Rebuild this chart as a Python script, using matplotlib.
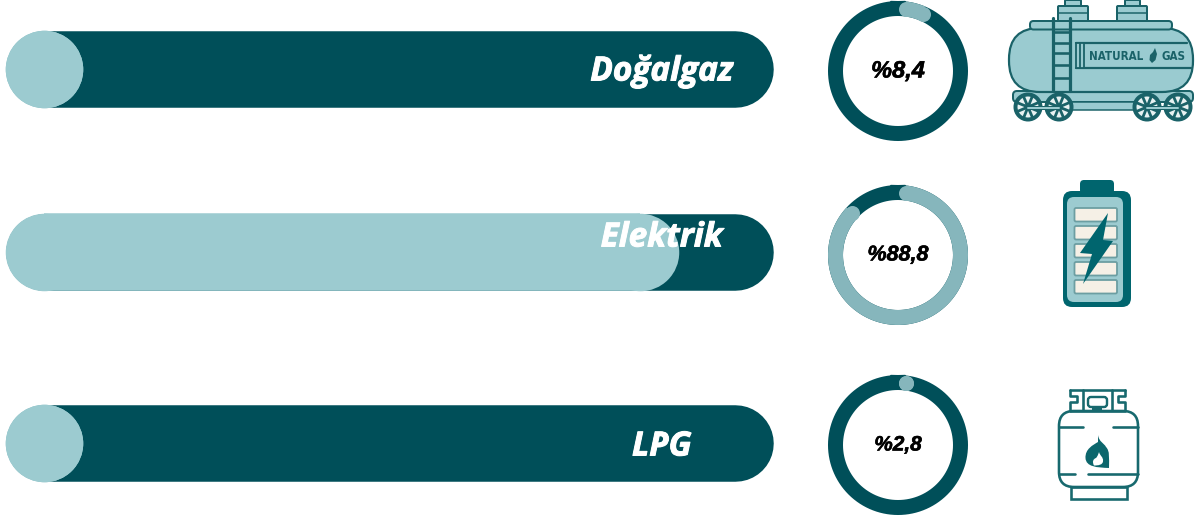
import numpy as np
import matplotlib
matplotlib.use("Agg")
import matplotlib.pyplot as plt
import matplotlib.patheffects as pe
from matplotlib.patches import FancyBboxPatch, Rectangle, Circle, Polygon, PathPatch
from matplotlib.path import Path

categories = ["Doğalgaz", "Elektrik", "LPG"]
share_values = [8.4, 88.8, 2.8]
share_labels = ["%8,4", "%88,8", "%2,8"]
bar_fill_values = [10.0, 87.7, 10.0]

W, H = 1203, 518
DARK = "#004F59"
LIGHT = "#9CCBD0"
RING_LIGHT = "#86B6BC"
TEAL = "#0F666C"
px = 0.72

fig = plt.figure(figsize=(W / 100, H / 100), dpi=100, facecolor="white")

# ---------- bars ----------
bx0, bx1 = 6, 773
axb = fig.add_axes([bx0 / W, 0, (bx1 - bx0) / W, 1])
axb.set_xlim(0, 100)
axb.set_ylim(H, 0)
axb.axis("off")
bar_h = 76.5
cap = bar_h / 2 / (bx1 - bx0) * 100
row_y = [69, 251.5, 443]
label_y = [72, 238, 447]
label_x = [85.5, 85.5, 85.5]
for v, y, ly, lx, name in zip(bar_fill_values, row_y, label_y, label_x, categories):
    axb.plot([cap, 100 - cap], [y, y], color=DARK, lw=bar_h * px,
             solid_capstyle="round", clip_on=False)
    fx = [cap, max(cap, v - cap)]
    axb.plot(fx, [y, y], color=LIGHT, lw=(bar_h + 1) * px,
             solid_capstyle="butt", clip_on=False)
    axb.plot(fx, [y, y], color=LIGHT, ls="none", marker="o", mew=0,
             ms=(bar_h + 1) * px, clip_on=False)
    axb.text(lx, ly, name, color="white", fontsize=24, fontweight="bold",
             fontstyle="italic", family="Open Sans", ha="center", va="center",
             path_effects=[pe.withStroke(linewidth=0.7, foreground="white")])

# ---------- rings ----------
ring_c = [(898, 71), (898, 255), (898, 445)]
ring_half = 72
ring_w = 15
ring_r = 62.5
offset = 7.0
label_sizes = [17, 15.5, 15]
for v, (cx, cy), lab, fs in zip(share_values, ring_c, share_labels, label_sizes):
    ax = fig.add_axes([(cx - ring_half) / W, 1 - (cy + ring_half) / H,
                       2 * ring_half / W, 2 * ring_half / H], projection="polar")
    ax.set_theta_zero_location("N")
    ax.set_theta_direction(-1)
    ax.set_ylim(0, ring_half)
    ax.axis("off")
    t = np.linspace(0, 2 * np.pi, 361)
    ax.plot(t, np.full_like(t, ring_r), color=DARK, lw=ring_w * px, clip_on=False)
    end = max(offset, v / 100 * 360 - offset)
    t2 = np.radians(np.linspace(offset, end, 200))
    ax.plot(t2, np.full_like(t2, ring_r), color=RING_LIGHT, lw=ring_w * px,
            solid_capstyle="butt", clip_on=False)
    ax.plot(t2[[0, -1]], [ring_r, ring_r], color=RING_LIGHT, ls="none", marker="o",
            mew=0, ms=ring_w * px, clip_on=False)
    ax.text(0, 0, lab, color="black", fontsize=fs, fontweight="bold",
            fontstyle="italic", family="Liberation Sans", ha="center", va="center",
            path_effects=[pe.withStroke(linewidth=0.4, foreground="black")])

# ---------- icons (pixel space) ----------
ic = fig.add_axes([0, 0, 1, 1], facecolor="none")
ic.set_xlim(0, W)
ic.set_ylim(H, 0)
ic.axis("off")


def rrect(x0, y0, x1, y1, r=1, fc="none", ec="none", lw=0, z=2):
    p = FancyBboxPatch((x0 + r, y0 + r), x1 - x0 - 2 * r, y1 - y0 - 2 * r,
                       boxstyle=f"round,pad={r},rounding_size={r}",
                       fc=fc, ec=ec, lw=lw * px, zorder=z)
    ic.add_patch(p)


def seg(xs, ys, c=TEAL, lw=2.0, z=5):
    ic.plot(xs, ys, color=c, lw=lw * px, zorder=z, solid_capstyle="round",
            solid_joinstyle="round")


# tank wagon
TF = "#9ACBD0"
TE = "#1A6268"
rrect(1065, 0, 1081, 7, 1, fc=TF, ec=TE, lw=2)
rrect(1125, 0, 1140, 7, 1, fc=TF, ec=TE, lw=2)
rrect(1058, 6, 1088, 24, 1, fc=TF, ec=TE, lw=2)
rrect(1117, 6, 1147, 24, 1, fc=TF, ec=TE, lw=2)
seg([1058, 1088], [13, 13], TE, 1.5)
seg([1117, 1147], [13, 13], TE, 1.5)
rrect(1013, 91, 1193, 102, 4, fc=TF, ec=TE, lw=2, z=2)
rrect(1009, 28, 1193, 92, 31, fc=TF, ec=TE, lw=2.2, z=3)
rrect(1030, 21, 1172, 29.5, 3.5, fc=TF, ec=TE, lw=2, z=4)
seg([1053, 1053], [18, 91], TE, 3.2, 6)
seg([1070, 1070], [18, 91], TE, 3.2, 6)
for ry in [32, 43, 53, 65, 78]:
    seg([1053, 1070], [ry, ry], TE, 2.6, 6)
seg([1076, 1187], [43, 43], TE, 2.2)
seg([1076, 1191], [68, 68], TE, 2.2)
ic.add_patch(Rectangle((1076, 43), 8, 25, fc=TF, ec=TE, lw=1.8 * px, zorder=5))
seg([1080, 1080], [43, 68], TE, 1.8)
ic.text(1116, 57, "NATURAL", color=TE, fontsize=8.3, fontweight="bold",
        family="DejaVu Sans", stretch="condensed", ha="center", va="center", zorder=6)
ic.text(1173.5, 57, "GAS", color=TE, fontsize=8.3, fontweight="bold",
        family="DejaVu Sans", stretch="condensed", ha="center", va="center", zorder=6)
ic.add_patch(Polygon([(1155, 48), (1157, 54), (1155.5, 60), (1152, 63), (1149.5, 60),
                      (1150, 55), (1153, 52)], fc=TE, ec="none", zorder=6))
rrect(1070, 102, 1140, 110, 2, fc=TF, ec=TE, lw=1.5, z=4)
for wx in [1028, 1059, 1147, 1178]:
    ic.add_patch(Circle((wx, 107), 12.5, fc="#E8F2F2", ec=TE, lw=4 * px, zorder=7))
    for a in np.arange(0, 360, 45):
        ar = np.radians(a + 22)
        seg([wx, wx + 12 * np.cos(ar)], [107, 107 + 12 * np.sin(ar)], TE, 2.8, 8)
    ic.add_patch(Circle((wx, 107), 3.5, fc=TE, ec="none", zorder=9))
for xa, xb in [(1028, 1059), (1147, 1178)]:
    seg([xa, xb], [108, 108], TE, 4, 10)
    seg([xa, xb], [108, 108], LIGHT, 2, 11)

# battery
BAT = "#00656E"
rrect(1080, 180, 1114, 194, 4, fc=BAT, z=2)
rrect(1063, 191, 1131, 307, 9, fc=BAT, z=3)
rrect(1067, 197, 1123, 302, 7, fc=LIGHT, z=4)
for cy0 in [208, 226, 244, 262, 280]:
    rrect(1074.5, cy0, 1117, cy0 + 13.5, 1.5, fc="#F5F0E6", ec="#6C9EA2", lw=1.8, z=5)
ic.add_patch(Polygon([(1108, 213), (1103, 240), (1113, 241), (1083, 284),
                      (1092, 254), (1080, 253)], fc=BAT, ec="none", zorder=6))

# LPG bottle
C = "#17696E"
rrect(1059, 411, 1138, 487, 15, ec=C, lw=2.6, z=5)
ic.add_patch(Rectangle((1070.5, 487), 56.5, 12, fc="none", ec=C, lw=2.6 * px, zorder=5))
seg([1059, 1083], [427, 427], C, 2.6, 6)
seg([1113, 1138], [427, 427], C, 2.6, 6)
seg([1059, 1075], [474, 474], C, 2.6, 6)
seg([1088, 1138], [474, 474], C, 2.6, 6)
seg([1070, 1070, 1077, 1077, 1070, 1070], [390, 396, 396, 402, 402, 410], C, 2.6)
seg([1125, 1125, 1118, 1118, 1125, 1125], [390, 396, 396, 402, 402, 410], C, 2.6)
seg([1070, 1125], [390, 390], C, 2.6)
seg([1070, 1125], [410.5, 410.5], C, 2.6)
seg([1083, 1083], [390, 410], C, 2.6)
seg([1112, 1112], [390, 410], C, 2.6)
rrect(1088, 397, 1107, 407, 3, ec=C, lw=2.4, z=5)
ic.add_patch(Rectangle((1092, 406), 10, 5, fc=C, ec="none", zorder=6))
verts = [(1098, 435), (1099, 442), (1104, 443), (1106, 447), (1110, 451), (1109, 458),
         (1109, 468), (1097, 467.5), (1086, 467), (1085.5, 458), (1085, 449), (1093, 445),
         (1098, 442), (1098, 435)]
codes = [Path.MOVETO] + [Path.CURVE4] * 12 + [Path.CLOSEPOLY]
ic.add_patch(PathPatch(Path(verts, codes), fc="#0C666C", ec="none", zorder=6))
verts2 = [(1099, 452), (1100, 456), (1103.5, 457), (1103, 461), (1103, 465), (1098, 465.5),
          (1094, 465.5), (1092, 462), (1093, 459), (1096, 458), (1098, 456), (1099, 452),
          (1099, 452)]
codes2 = [Path.MOVETO] + [Path.CURVE4] * 11 + [Path.CLOSEPOLY]
ic.add_patch(PathPatch(Path(verts2, codes2), fc="white", ec="none", zorder=7))

fig.savefig("out.png", dpi=100)
